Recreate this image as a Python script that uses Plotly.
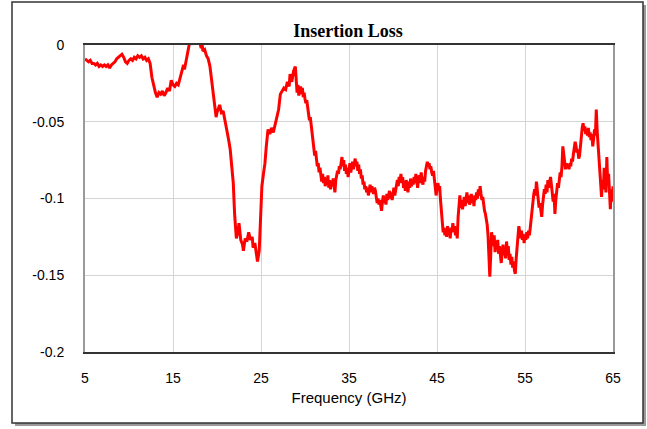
import plotly.graph_objects as go

# 5.0 - 28.9 GHz (hand-read, irregular sampling)
freq_a = [5.0, 5.2, 5.4, 5.6, 5.8, 6.0, 6.2, 6.4, 6.6, 6.8, 7.0, 7.2, 7.4, 7.6, 7.8, 8.0, 8.2, 8.4, 8.6, 8.8,
          9.0, 9.2, 9.4, 9.6, 9.8, 10.0, 10.2, 10.4, 10.6, 10.8, 11.0, 11.2, 11.4, 11.6, 11.8, 12.0, 12.2, 12.4, 12.6, 12.8,
          13.0, 13.2, 13.4, 13.6, 13.8, 14.0, 14.2, 14.4, 14.6, 14.8, 15.0, 15.2, 15.4, 15.6, 15.8, 16.0, 16.2, 16.3, 16.5, 16.7,
          16.9, 17.5, 18.0, 18.2, 18.3, 18.4, 18.6, 18.8, 19.0, 19.2, 19.4, 19.6, 19.8, 19.9, 20.0, 20.2, 20.3, 20.5, 20.7, 20.9,
          21.1, 21.3, 21.5, 21.7, 21.85, 22.0, 22.1, 22.2, 22.4, 22.5, 22.7, 22.9, 23.0, 23.2, 23.4, 23.6, 23.8, 24.0, 24.1, 24.3,
          24.5, 24.6, 24.8, 24.9, 25.0, 25.1, 25.3, 25.45, 25.6, 25.8, 26.0, 26.2, 26.4, 26.6, 26.8, 27.0, 27.2, 27.4, 27.6, 27.8,
          28.0, 28.2, 28.3, 28.5, 28.7, 28.9]
loss_a = [-0.009, -0.010, -0.011, -0.010, -0.012, -0.012, -0.013, -0.012, -0.014, -0.013, -0.014, -0.013, -0.014, -0.013, -0.015, -0.013, -0.012, -0.011, -0.009, -0.008,
          -0.007, -0.006, -0.008, -0.011, -0.012, -0.010, -0.009, -0.010, -0.008, -0.009, -0.007, -0.008, -0.007, -0.009, -0.008, -0.010, -0.009, -0.012, -0.021, -0.027,
          -0.031, -0.034, -0.031, -0.032, -0.030, -0.033, -0.031, -0.028, -0.030, -0.023, -0.026, -0.027, -0.025, -0.026, -0.022, -0.017, -0.013, -0.016, -0.009, -0.003,
          0.002, 0.006, 0.003, -0.002, 0.001, -0.004, -0.003, -0.007, -0.009, -0.014, -0.024, -0.033, -0.042, -0.047, -0.044, -0.041, -0.039, -0.044, -0.043, -0.049,
          -0.054, -0.061, -0.068, -0.080, -0.090, -0.110, -0.122, -0.126, -0.121, -0.116, -0.127, -0.130, -0.134, -0.126, -0.128, -0.122, -0.127, -0.125, -0.132, -0.129,
          -0.137, -0.141, -0.134, -0.121, -0.103, -0.092, -0.083, -0.077, -0.066, -0.055, -0.058, -0.054, -0.057, -0.052, -0.049, -0.042, -0.032, -0.030, -0.028, -0.029,
          -0.024, -0.027, -0.019, -0.024, -0.017, -0.014]

# 29.0 - 65.0 GHz (hand-read every 0.1 GHz)
freq_b = [29.0, 29.1, 29.2, 29.3, 29.4, 29.5, 29.6, 29.7, 29.8, 29.9,
          30.0, 30.1, 30.2, 30.3, 30.4, 30.5, 30.6, 30.7, 30.8, 30.9,
          31.0, 31.1, 31.2, 31.3, 31.4, 31.5, 31.6, 31.7, 31.8, 31.9,
          32.0, 32.1, 32.2, 32.3, 32.4, 32.5, 32.6, 32.7, 32.8, 32.9,
          33.0, 33.1, 33.2, 33.3, 33.4, 33.5, 33.6, 33.7, 33.8, 33.9,
          34.0, 34.1, 34.2, 34.3, 34.4, 34.5, 34.6, 34.7, 34.8, 34.9,
          35.0, 35.1, 35.2, 35.3, 35.4, 35.5, 35.6, 35.7, 35.8, 35.9,
          36.0, 36.1, 36.2, 36.3, 36.4, 36.5, 36.6, 36.7, 36.8, 36.9,
          37.0, 37.1, 37.2, 37.3, 37.4, 37.5, 37.6, 37.7, 37.8, 37.9,
          38.0, 38.1, 38.2, 38.3, 38.4, 38.5, 38.6, 38.7, 38.8, 38.9,
          39.0, 39.1, 39.2, 39.3, 39.4, 39.5, 39.6, 39.7, 39.8, 39.9,
          40.0, 40.1, 40.2, 40.3, 40.4, 40.5, 40.6, 40.7, 40.8, 40.9,
          41.0, 41.1, 41.2, 41.3, 41.4, 41.5, 41.6, 41.7, 41.8, 41.9,
          42.0, 42.1, 42.2, 42.3, 42.4, 42.5, 42.6, 42.7, 42.8, 42.9,
          43.0, 43.1, 43.2, 43.3, 43.4, 43.5, 43.6, 43.7, 43.8, 43.9,
          44.0, 44.1, 44.2, 44.3, 44.4, 44.5, 44.6, 44.7, 44.8, 44.9,
          45.0, 45.1, 45.2, 45.3, 45.4, 45.5, 45.6, 45.7, 45.8, 45.9,
          46.0, 46.1, 46.2, 46.3, 46.4, 46.5, 46.6, 46.7, 46.8, 46.9,
          47.0, 47.1, 47.2, 47.3, 47.4, 47.5, 47.6, 47.7, 47.8, 47.9,
          48.0, 48.1, 48.2, 48.3, 48.4, 48.5, 48.6, 48.7, 48.8, 48.9,
          49.0, 49.1, 49.2, 49.3, 49.4, 49.5, 49.6, 49.7, 49.8, 49.9,
          50.0, 50.1, 50.2, 50.3, 50.4, 50.5, 50.6, 50.7, 50.8, 50.9,
          51.0, 51.1, 51.2, 51.3, 51.4, 51.5, 51.6, 51.7, 51.8, 51.9,
          52.0, 52.1, 52.2, 52.3, 52.4, 52.5, 52.6, 52.7, 52.8, 52.9,
          53.0, 53.1, 53.2, 53.3, 53.4, 53.5, 53.6, 53.7, 53.8, 53.9,
          54.0, 54.1, 54.2, 54.3, 54.4, 54.5, 54.6, 54.7, 54.8, 54.9,
          55.0, 55.1, 55.2, 55.3, 55.4, 55.5, 55.6, 55.7, 55.8, 55.9,
          56.0, 56.1, 56.2, 56.3, 56.4, 56.5, 56.6, 56.7, 56.8, 56.9,
          57.0, 57.1, 57.2, 57.3, 57.4, 57.5, 57.6, 57.7, 57.8, 57.9,
          58.0, 58.1, 58.2, 58.3, 58.4, 58.5, 58.6, 58.7, 58.8, 58.9,
          59.0, 59.1, 59.2, 59.3, 59.4, 59.5, 59.6, 59.7, 59.8, 59.9,
          60.0, 60.1, 60.2, 60.3, 60.4, 60.5, 60.6, 60.7, 60.8, 60.9,
          61.0, 61.1, 61.2, 61.3, 61.4, 61.5, 61.6, 61.7, 61.8, 61.9,
          62.0, 62.1, 62.2, 62.3, 62.4, 62.5, 62.6, 62.7, 62.8, 62.9,
          63.0, 63.1, 63.2, 63.3, 63.4, 63.5, 63.6, 63.7, 63.8, 63.9,
          64.0, 64.1, 64.2, 64.3, 64.4, 64.5, 64.6, 64.7, 64.8, 64.9,
          65.0]
loss_b = [-0.028, -0.031, -0.026, -0.033, -0.029, -0.027, -0.032, -0.028, -0.034, -0.031,
          -0.035, -0.038, -0.036, -0.042, -0.045, -0.049, -0.047, -0.053, -0.058, -0.062,
          -0.066, -0.072, -0.069, -0.075, -0.079, -0.077, -0.083, -0.080, -0.086, -0.089,
          -0.084, -0.090, -0.086, -0.092, -0.087, -0.091, -0.085, -0.093, -0.088, -0.094,
          -0.089, -0.092, -0.087, -0.094, -0.096, -0.088, -0.085, -0.082, -0.084, -0.079,
          -0.081, -0.076, -0.073, -0.079, -0.075, -0.082, -0.078, -0.084, -0.080, -0.086,
          -0.081, -0.077, -0.083, -0.079, -0.076, -0.081, -0.078, -0.074, -0.079, -0.076,
          -0.082, -0.078, -0.084, -0.081, -0.087, -0.085, -0.091, -0.089, -0.094, -0.092,
          -0.096, -0.093, -0.098, -0.094, -0.091, -0.096, -0.092, -0.095, -0.097, -0.093,
          -0.095, -0.099, -0.103, -0.100, -0.104, -0.101, -0.106, -0.108, -0.102, -0.098,
          -0.103, -0.099, -0.104, -0.097, -0.101, -0.098, -0.095, -0.100, -0.096, -0.101,
          -0.097, -0.093, -0.098, -0.094, -0.091, -0.088, -0.092, -0.086, -0.090, -0.084,
          -0.089, -0.086, -0.093, -0.090, -0.095, -0.088, -0.092, -0.096, -0.089, -0.093,
          -0.087, -0.092, -0.088, -0.091, -0.086, -0.090, -0.084, -0.089, -0.093, -0.087,
          -0.085, -0.090, -0.083, -0.088, -0.091, -0.086, -0.089, -0.082, -0.078, -0.076,
          -0.079, -0.077, -0.081, -0.079, -0.083, -0.085, -0.082, -0.088, -0.092, -0.098,
          -0.094, -0.090, -0.093, -0.092, -0.101, -0.108, -0.116, -0.122, -0.119, -0.124,
          -0.121, -0.125, -0.118, -0.123, -0.120, -0.126, -0.119, -0.122, -0.116, -0.121,
          -0.118, -0.124, -0.119, -0.126, -0.112, -0.104, -0.098, -0.106, -0.101, -0.107,
          -0.102, -0.099, -0.105, -0.100, -0.096, -0.103, -0.098, -0.104, -0.100, -0.097,
          -0.103, -0.099, -0.105, -0.098, -0.101, -0.096, -0.100, -0.094, -0.098, -0.092,
          -0.097, -0.101, -0.099, -0.106, -0.108, -0.110, -0.113, -0.117, -0.124, -0.134,
          -0.151, -0.138, -0.122, -0.126, -0.131, -0.124, -0.135, -0.128, -0.133, -0.127,
          -0.136, -0.131, -0.139, -0.142, -0.136, -0.130, -0.137, -0.133, -0.139, -0.128,
          -0.135, -0.131, -0.140, -0.136, -0.143, -0.138, -0.145, -0.141, -0.147, -0.149,
          -0.139, -0.131, -0.124, -0.118, -0.122, -0.126, -0.121, -0.127, -0.123, -0.129,
          -0.124, -0.127, -0.122, -0.126, -0.121, -0.124, -0.119, -0.113, -0.106, -0.100,
          -0.097, -0.094, -0.098, -0.089, -0.095, -0.101, -0.106, -0.103, -0.109, -0.112,
          -0.104, -0.099, -0.094, -0.097, -0.091, -0.096, -0.088, -0.093, -0.089, -0.086,
          -0.091, -0.095, -0.102, -0.097, -0.110, -0.101, -0.096, -0.090, -0.093, -0.087,
          -0.083, -0.086, -0.079, -0.066, -0.071, -0.075, -0.081, -0.077, -0.080, -0.078,
          -0.081, -0.077, -0.079, -0.074, -0.076, -0.071, -0.068, -0.063, -0.066, -0.070,
          -0.068, -0.074, -0.072, -0.065, -0.059, -0.054, -0.051, -0.056, -0.053, -0.058,
          -0.055, -0.059, -0.054, -0.060, -0.057, -0.062, -0.058, -0.066, -0.061, -0.055,
          -0.059, -0.042, -0.056, -0.064, -0.071, -0.078, -0.085, -0.099, -0.088, -0.094,
          -0.080, -0.089, -0.096, -0.073, -0.091, -0.084, -0.100, -0.107, -0.094, -0.102,
          -0.092]

x_ticks = [5, 15, 25, 35, 45, 55, 65]
y_ticks = [-0.2, -0.15, -0.1, -0.05, 0]
y_tick_labels = ["-0.2", "-0.15", "-0.1", "-0.05", "0"]

freq = freq_a + freq_b
loss = loss_a + loss_b

W, H = 647, 429
L, R, T, B = 85, 613, 45, 352


def px(xp):
    return (xp - L) / (R - L)


def py(yp):
    return (B - yp) / (B - T)


fig = go.Figure()
fig.add_trace(go.Scatter(x=freq, y=loss, mode="lines",
                         line=dict(color="#ff0000", width=3), showlegend=False))

fig.update_layout(
    width=W, height=H,
    margin=dict(l=L, r=W - R, t=T, b=H - B),
    paper_bgcolor="white", plot_bgcolor="white",
    title=dict(text="<b>Insertion Loss</b>", x=px(348), xref="paper",
               y=1 - 31 / H, yref="container", xanchor="center", yanchor="middle",
               font=dict(family="Liberation Serif, Times New Roman, serif", size=18, color="black")),
    font=dict(family="Liberation Sans, Arial, sans-serif", size=14, color="black"),
    shapes=[
        dict(type="rect", xref="paper", yref="paper", layer="below",
             x0=px(15), x1=px(646), y0=py(426), y1=py(5),
             fillcolor="#9a9a9a", line=dict(width=0)),
        dict(type="rect", xref="paper", yref="paper", layer="below",
             x0=px(12), x1=px(643), y0=py(423), y1=py(2),
             fillcolor="white", line=dict(color="#333333", width=1.5)),
    ],
)

fig.update_xaxes(range=[5, 65], tickvals=x_ticks, ticktext=[str(v) for v in x_ticks],
                 showgrid=True, gridcolor="#d4d4d4", gridwidth=1,
                 showline=True, linecolor="#333333", linewidth=1.5, mirror=True,
                 zeroline=False, ticks="", ticklabelstandoff=12,
                 title=dict(text="Frequency (GHz)", standoff=8,
                            font=dict(size=15)))
fig.update_yaxes(range=[-0.2, 0], tickvals=y_ticks, ticktext=y_tick_labels,
                 showgrid=True, gridcolor="#d4d4d4", gridwidth=1,
                 showline=True, linecolor="#9a9a9a", linewidth=2, mirror=True,
                 zeroline=False, ticks="", ticklabelstandoff=16)

fig.write_html("out.html", config={"displayModeBar": False},
               post_script="document.body.style.margin='0px';document.body.style.overflow='hidden';")
